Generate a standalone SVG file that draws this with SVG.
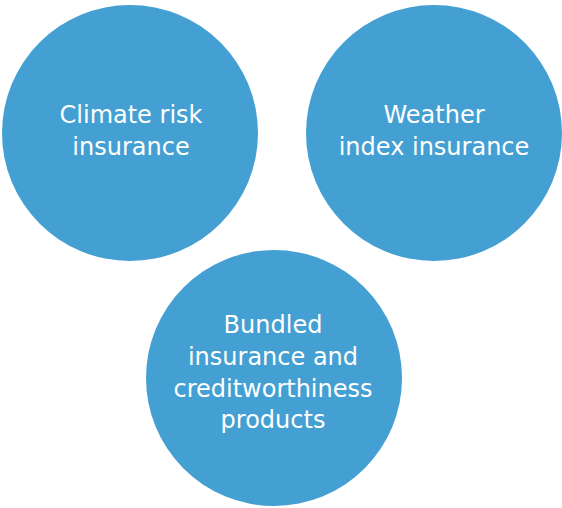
<svg xmlns="http://www.w3.org/2000/svg" width="562" height="508" viewBox="0 0 562 508">
<style>
.c{fill:#449fd2}
.t{font-family:"DejaVu Sans",sans-serif;font-size:24px;fill:#ffffff;text-anchor:middle}
</style>
<rect width="562" height="508" fill="#ffffff"/>
<g id="climate"><circle class="c" cx="130" cy="133" r="128"/><text class="t"><tspan x="131" y="123">Climate risk</tspan><tspan x="131" y="155">insurance</tspan></text></g>
<g id="weather"><circle class="c" cx="434" cy="133" r="128"/><text class="t"><tspan x="434" y="123">Weather</tspan><tspan x="434" y="155">index insurance</tspan></text></g>
<g id="bundled"><circle class="c" cx="274" cy="378" r="128"/><text class="t"><tspan x="273" y="333">Bundled</tspan><tspan x="273" y="365">insurance and</tspan><tspan x="273" y="397">creditworthiness</tspan><tspan x="273" y="428">products</tspan></text></g>
<g id="connectors"/>
</svg>
